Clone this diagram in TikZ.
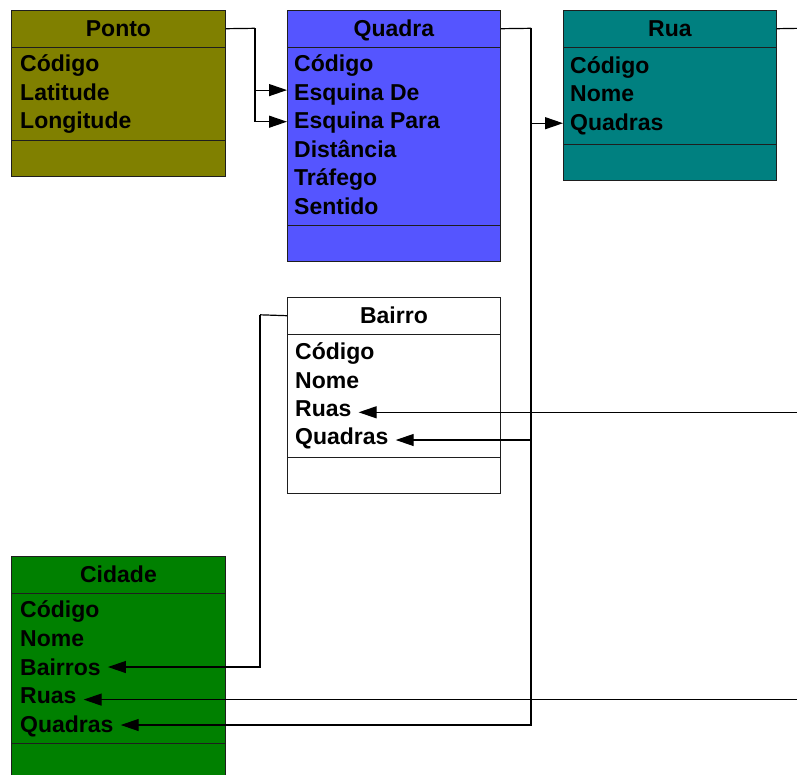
\documentclass[tikz,border=0pt]{standalone}
\usepackage{fontspec}
\setmainfont{Liberation Sans}
\usetikzlibrary{arrows.meta}

\definecolor{pontofill}{RGB}{128,128,0}
\definecolor{quadrafill}{RGB}{85,85,255}
\definecolor{ruafill}{RGB}{0,128,128}
\definecolor{cidadefill}{RGB}{0,128,0}
\definecolor{edge}{RGB}{30,30,30}

\tikzset{
  classbox/.style={draw=edge, line width=0.9pt, anchor=north west, inner sep=0pt},
  classhead/.style={draw=edge, line width=0.9pt, anchor=north west, inner sep=0pt,
    minimum height=36.5pt, text height=16.5pt, text depth=0pt,
    font=\fontsize{23}{28.6}\selectfont\bfseries},
  attr/.style={anchor=base west, inner xsep=7pt, inner ysep=0pt,
    text height=12pt, text depth=0pt,
    font=\fontsize{23}{28.6}\selectfont\bfseries},
  sepline/.style={draw=edge, line width=0.9pt},
  conn/.style={draw=black, line width=1.2pt},
  link/.style={conn, -{Triangle[length=18pt,width=12pt]}},
}

\begin{document}
\begin{tikzpicture}[x=1pt, y=1pt]
\useasboundingbox (0,0) rectangle (797,-774);
\clip (0,0) rectangle (797,-774);

% ---- Ponto ----
\node[classbox, fill=pontofill, minimum width=214pt, minimum height=166pt] (ponto) at (11,-10) {};
\node[classhead, minimum width=214pt] (ponto-h) at (ponto.north west) {Ponto};
\draw[sepline] ([yshift=-130pt]ponto.north west) -- ([yshift=-130pt]ponto.north east);
\node[attr] (ponto-a1) at (13,-71.5) {Código};
\node[attr] (ponto-a2) at (13,-100.1) {Latitude};
\node[attr] (ponto-a3) at (13,-128.7) {Longitude};

% ---- Quadra ----
\node[classbox, fill=quadrafill, minimum width=213pt, minimum height=251pt] (quadra) at (287,-10) {};
\node[classhead, minimum width=213pt] (quadra-h) at (quadra.north west) {Quadra};
\draw[sepline] ([yshift=-215pt]quadra.north west) -- ([yshift=-215pt]quadra.north east);
\node[attr] (quadra-a1) at (287,-71.5) {Código};
\node[attr] (quadra-a2) at (287,-100.1) {Esquina De};
\node[attr] (quadra-a3) at (287,-128.7) {Esquina Para};
\node[attr] (quadra-a4) at (287,-157.3) {Distância};
\node[attr] (quadra-a5) at (287,-185.9) {Tráfego};
\node[attr] (quadra-a6) at (287,-214.5) {Sentido};

% ---- Rua ----
\node[classbox, fill=ruafill, minimum width=213pt, minimum height=170pt] (rua) at (563,-10) {};
\node[classhead, minimum width=213pt] (rua-h) at (rua.north west) {Rua};
\draw[sepline] ([yshift=-134.3pt]rua.north west) -- ([yshift=-134.3pt]rua.north east);
\node[attr] (rua-a1) at (563,-73) {Código};
\node[attr] (rua-a2) at (563,-101.6) {Nome};
\node[attr] (rua-a3) at (563,-130.2) {Quadras};

% ---- Bairro ----
\node[classbox, fill=white, minimum width=213pt, minimum height=196pt] (bairro) at (287,-297) {};
\node[classhead, minimum width=213pt] (bairro-h) at (bairro.north west) {Bairro};
\draw[sepline] ([yshift=-160.7pt]bairro.north west) -- ([yshift=-160.7pt]bairro.north east);
\node[attr] (bairro-a1) at (288,-359.2) {Código};
\node[attr] (bairro-a2) at (288,-388) {Nome};
\node[attr] (bairro-a3) at (288,-416.8) {Ruas};
\node[attr] (bairro-a4) at (288,-444.5) {Quadras};

% ---- Cidade ----
\node[classbox, fill=cidadefill, minimum width=214pt, minimum height=240pt] (cidade) at (11,-556) {};
\node[classhead, minimum width=214pt] (cidade-h) at (cidade.north west) {Cidade};
\draw[sepline] ([yshift=-187.3pt]cidade.north west) -- ([yshift=-187.3pt]cidade.north east);
\node[attr] (cidade-a1) at (13,-617.8) {Código};
\node[attr] (cidade-a2) at (13,-646.4) {Nome};
\node[attr] (cidade-a3) at (13,-675) {Bairros};
\node[attr] (cidade-a4) at (13,-703.6) {Ruas};
\node[attr] (cidade-a5) at (13,-732) {Quadras};

% ---- junction points of the connectors ----
\coordinate (jponto)  at (255,-28.3);
\coordinate (jquadra) at (531,-28.3);
\coordinate (jrua)    at (800,-28.3);
\coordinate (jbairro) at (260,-314.8);

% Ponto -> Quadra (both corners)
\draw[conn] (ponto-h.east) -- (jponto);
\draw[link] (jponto) |- ([yshift=4pt]quadra-a2.west);
\draw[link] (jponto) |- ([yshift=1pt]quadra-a3.west);

% Quadra -> Rua, Bairro, Cidade
\draw[conn] (quadra-h.east) -- (jquadra);
\draw[link] (jquadra) |- ([yshift=1pt]rua-a3.west);
\draw[link] (jquadra) |- ([yshift=-1.5pt]bairro-a4.east);
\draw[link] (jquadra) |- ([yshift=1pt]cidade-a5.east);

% Rua -> Bairro, Cidade (running along the right margin)
\draw[conn] (rua-h.east) -- (jrua);
\draw[link] (jrua) |- ([yshift=-1.5pt]bairro-a3.east);
\draw[link] (jrua) |- ([yshift=-2pt]cidade-a4.east);

% Bairro -> Cidade
\draw[conn] (bairro-h.west) -- (jbairro);
\draw[link] (jbairro) |- ([yshift=2pt]cidade-a3.east);
\end{tikzpicture}
\end{document}
